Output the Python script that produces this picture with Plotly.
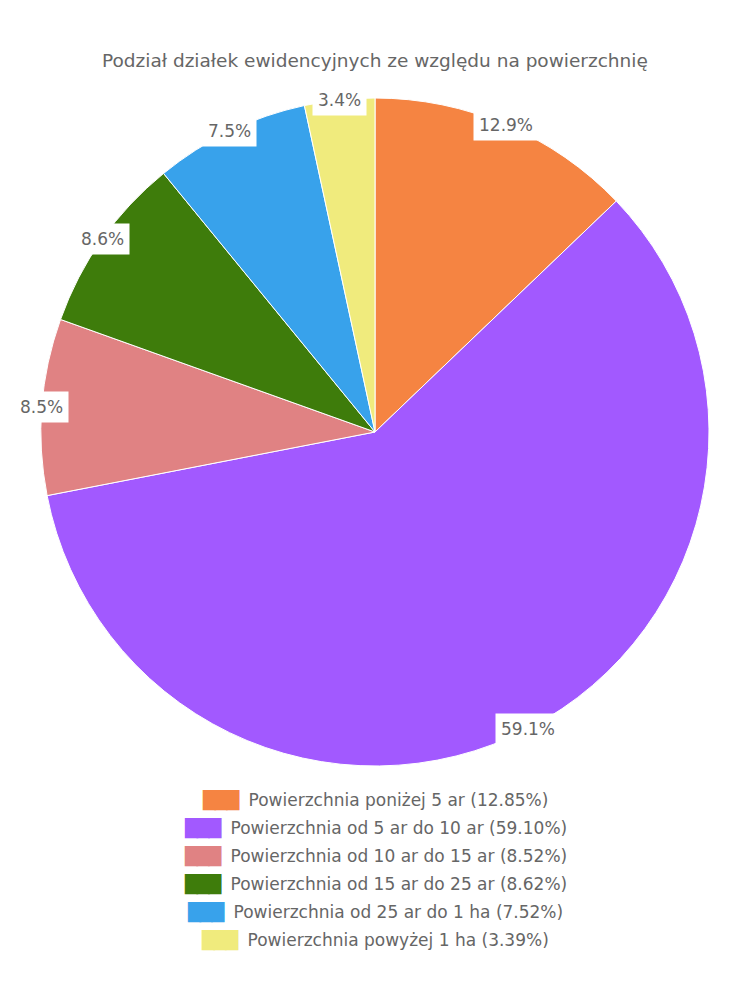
import plotly.graph_objects as go
import math
from decimal import Decimal, ROUND_HALF_UP

title = "Podział działek ewidencyjnych ze względu na powierzchnię"
categories = [
    "Powierzchnia poniżej 5 ar",
    "Powierzchnia od 5 ar do 10 ar",
    "Powierzchnia od 10 ar do 15 ar",
    "Powierzchnia od 15 ar do 25 ar",
    "Powierzchnia od 25 ar do 1 ha",
    "Powierzchnia powyżej 1 ha",
]
values = [12.85, 59.10, 8.52, 8.62, 7.52, 3.39]
colors = ["#F58442", "#A259FF", "#E08283", "#3E7C0B", "#38A2EB", "#F0EB7D"]

FONT = "DejaVu Sans"
GREY = "#666666"
W, H = 750, 1000

# pie placement (paper coords)
dom_y = [0.234, 0.902]
cx, cy = 0.5, (dom_y[0] + dom_y[1]) / 2
r_px = (dom_y[1] - dom_y[0]) * H / 2

fig = go.Figure()
fig.add_trace(go.Pie(
    labels=categories,
    values=values,
    sort=False,
    direction="clockwise",
    rotation=0,
    textinfo="none",
    hoverinfo="label+percent",
    marker=dict(colors=colors, line=dict(color="white", width=1)),
    domain=dict(x=[0, 1], y=dom_y),
    showlegend=False,
))

total = sum(values)
annotations = []
cum = 0.0
for v in values:
    mid = (cum + v / 2) / total * 2 * math.pi
    cum += v
    pct = Decimal(str(v / total * 100)).quantize(Decimal("0.1"), rounding=ROUND_HALF_UP)
    x = cx + r_px * math.sin(mid) / W
    y = cy + r_px * math.cos(mid) / H
    annotations.append(dict(
        x=x, y=y, xref="paper", yref="paper", showarrow=False,
        text=f"{pct}%", font=dict(family=FONT, size=17, color=GREY),
        bgcolor="white", borderpad=5, xanchor="center", yanchor="middle",
    ))

# legend rows (centered, Chart.js-like)
leg_top = 1 - 800 / H
leg_step = 28 / H
for i, (c, v, col) in enumerate(zip(categories, values, colors)):
    swatch = f"<span style='color:{col};font-size:17px;letter-spacing:-1.5px'>███</span>"
    annotations.append(dict(
        x=0.5, y=leg_top - i * leg_step, xref="paper", yref="paper", showarrow=False,
        text=f"{swatch}  {c} ({v:.2f}%)",
        font=dict(family=FONT, size=17, color=GREY),
        xanchor="center", yanchor="middle",
    ))

annotations.append(dict(
    x=0.5, y=1 - 60 / H, xref="paper", yref="paper", showarrow=False,
    text=title, font=dict(family=FONT, size=18.5, color=GREY),
    xanchor="center", yanchor="middle",
))

fig.update_layout(
    width=W, height=H,
    margin=dict(l=0, r=0, t=0, b=0),
    paper_bgcolor="white", plot_bgcolor="white",
    annotations=annotations,
)

fig.write_html("out.html")
